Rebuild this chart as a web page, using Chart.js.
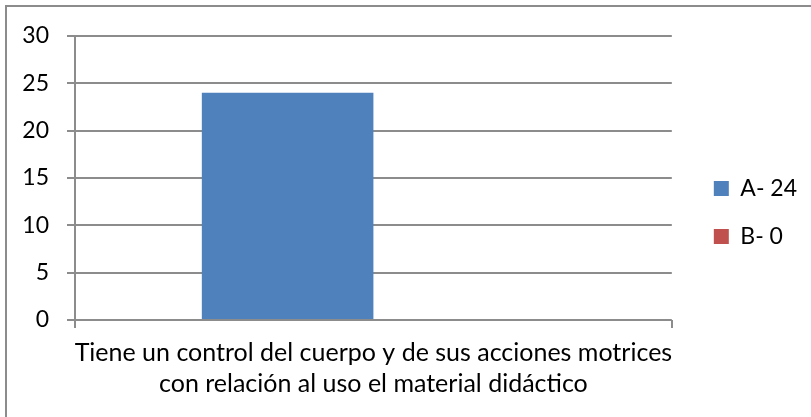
<!DOCTYPE html>
<html>
<head>
<meta charset="utf-8">
<script src="https://cdn.jsdelivr.net/npm/chart.js@4"></script>
<style>
  html, body { margin: 0; padding: 0; background: #fff; }
  #wrap { position: relative; width: 811px; height: 417px; overflow: hidden; }
  #frame { position: absolute; left: 5px; top: 5px; width: 900px; height: 500px;
           border-left: 2px solid #8c8c8c; border-top: 2px solid #8c8c8c; }
  canvas { position: absolute; left: 0; top: 0; }
</style>
</head>
<body>
<div id="wrap">
  <div id="frame"></div>
  <canvas id="chart" width="811" height="417"></canvas>
</div>
<script>
const categories = [['Tiene un control del cuerpo y de sus acciones motrices', 'con relación al uso el material didáctico']];
const seriesNames = ['A- 24', 'B- 0'];
const seriesA = [24];
const seriesB = [0];
const yTicks = { min: 0, max: 30, step: 5 };

const font = { family: 'Lato, "Open Sans", sans-serif', size: 23 };

new Chart(document.getElementById('chart'), {
    type: 'bar',
    data: {
        labels: categories,
        datasets: [
            { label: seriesNames[0], data: seriesA, backgroundColor: '#4F81BD' },
            { label: seriesNames[1], data: seriesB, backgroundColor: '#C0504D' }
        ]
    },
    options: {
        responsive: false,
        animation: false,
        categoryPercentage: 0.575,
        barPercentage: 1,
        layout: { padding: { left: 0, top: 36, right: 4, bottom: 0 } },
        plugins: {
            tooltip: { enabled: false },
            legend: {
                position: 'right',
                align: 'start',
                // empty title only used to push the legend items down
                title: { display: true, text: ' ', font: { size: 10 }, padding: { top: 104, bottom: 0 } },
                labels: { boxWidth: 15, boxHeight: 15, padding: 25, color: '#000', font: font }
            }
        },
        scales: {
            x: {
                grid: { drawOnChartArea: false, drawTicks: true, tickLength: 8, color: '#8c8c8c', lineWidth: 2 },
                border: { display: false },
                ticks: { color: '#000', padding: 9, font: { ...font, size: 25, lineHeight: 1.24 } },
                afterFit: s => { s.height = 417 - 320; }
            },
            y: {
                min: yTicks.min,
                max: yTicks.max,
                grid: { color: '#8c8c8c', lineWidth: 2, tickLength: 8 },
                border: { color: '#8c8c8c', width: 2 },
                ticks: { stepSize: yTicks.step, color: '#000', padding: 18, font: font },
                afterFit: s => { s.width = 75; }
            },
            gap: {
                type: 'linear',
                position: 'right',
                grid: { display: false },
                border: { display: false },
                ticks: { display: false },
                afterFit: s => { s.width = 17; }
            }
        }
    }
});
</script>
</body>
</html>
